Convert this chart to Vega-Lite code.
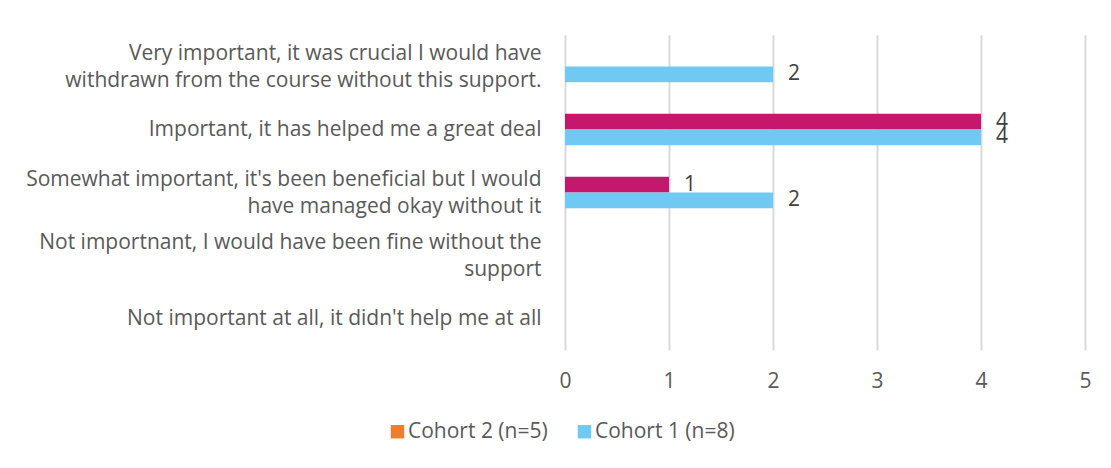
{
  "$schema": "https://vega.github.io/schema/vega-lite/v6.json",
  "autosize": {"type": "none"},
  "width": 520,
  "height": 315,
  "padding": {"left": 565, "top": 35, "right": 26, "bottom": 118},
  "background": "white",
  "config": {
    "font": "Open Sans",
    "view": {"stroke": null},
    "axis": {"labelFont": "Open Sans", "labelColor": "#595959"}
  },
  "data": {
    "values": [
      {"category": "Very important, it was crucial I would have|withdrawn from the course without this support.", "cohort": "Cohort 2 (n=5)", "value": 0},
      {"category": "Very important, it was crucial I would have|withdrawn from the course without this support.", "cohort": "Cohort 1 (n=8)", "value": 2},
      {"category": "Important, it has helped me a great deal", "cohort": "Cohort 2 (n=5)", "value": 4},
      {"category": "Important, it has helped me a great deal", "cohort": "Cohort 1 (n=8)", "value": 4},
      {"category": "Somewhat important, it's been beneficial but I would|have managed okay without it", "cohort": "Cohort 2 (n=5)", "value": 1},
      {"category": "Somewhat important, it's been beneficial but I would|have managed okay without it", "cohort": "Cohort 1 (n=8)", "value": 2}
    ]
  },
  "encoding": {
    "y": {
      "field": "category",
      "type": "nominal",
      "sort": null,
      "scale": {
        "domain": [
          "Very important, it was crucial I would have|withdrawn from the course without this support.",
          "Important, it has helped me a great deal",
          "Somewhat important, it's been beneficial but I would|have managed okay without it",
          "Not importnant, I would have been fine without the|support",
          "Not important at all, it didn't help me at all"
        ],
        "paddingInner": 0.5,
        "paddingOuter": 0.25
      },
      "axis": {
        "title": null,
        "domain": false,
        "ticks": false,
        "labelExpr": "split(datum.label, '|')",
        "labelFontSize": 21,
        "labelLineHeight": 27,
        "labelPadding": 24,
        "labelLimit": 600,
        "labelAlign": "right",
        "labelOffset": {"condition": {"test": "indexof(datum.value, '|') >= 0", "value": -13}, "value": 0}
      }
    },
    "yOffset": {
      "field": "cohort",
      "type": "nominal",
      "scale": {"domain": ["Cohort 2 (n=5)", "Cohort 1 (n=8)"], "paddingInner": 0, "paddingOuter": 0}
    },
    "x": {
      "field": "value",
      "type": "quantitative",
      "scale": {"domain": [0, 5], "nice": false},
      "axis": {
        "title": null,
        "values": [0, 1, 2, 3, 4, 5],
        "format": "d",
        "domain": false,
        "ticks": false,
        "grid": true,
        "gridColor": "#D9D9D9",
        "gridWidth": 2,
        "labelFlush": false,
        "labelFontSize": 21,
        "labelPadding": 20,
        "labelColor": "#595959"
      }
    }
  },
  "resolve": {"scale": {"color": "independent"}, "legend": {"color": "independent"}},
  "layer": [
    {
      "mark": {"type": "bar"},
      "encoding": {
        "color": {
          "field": "cohort",
          "type": "nominal",
          "scale": {"domain": ["Cohort 2 (n=5)", "Cohort 1 (n=8)"], "range": ["#C5176B", "#6FC9F3"]},
          "legend": null
        }
      }
    },
    {
      "mark": {"type": "text", "align": "left", "baseline": "middle", "dx": 15, "fontSize": 21, "color": "#404040"},
      "transform": [{"filter": "datum.value > 0"}],
      "encoding": {
        "text": {"field": "value", "type": "quantitative"}
      }
    },
    {
      "mark": {"type": "square", "filled": true, "size": 0},
      "encoding": {
        "color": {
          "field": "cohort",
          "type": "nominal",
          "scale": {"domain": ["Cohort 2 (n=5)", "Cohort 1 (n=8)"], "range": ["#ED7D31", "#6FC9F3"]},
          "legend": {
            "title": null,
            "orient": "none",
            "direction": "horizontal",
            "legendX": -178,
            "legendY": 386,
            "padding": 0,
            "symbolType": "square",
            "symbolSize": 180,
            "symbolOpacity": 1,
            "symbolStrokeWidth": 0,
            "labelFontSize": 21,
            "labelOffset": 0,
            "labelColor": "#595959",
            "labelFont": "Open Sans",
            "columnPadding": 26,
            "symbolOffset": 0
          }
        }
      }
    }
  ]
}
